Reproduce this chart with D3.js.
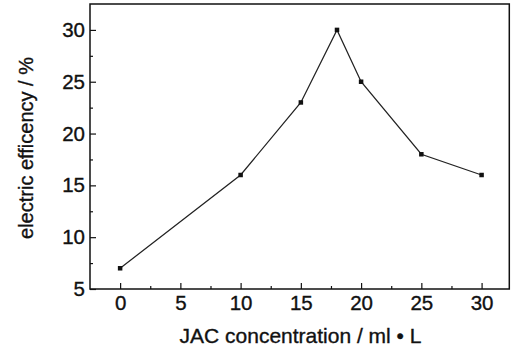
<!DOCTYPE html>
<html><head><meta charset="utf-8">
<script src="https://cdn.jsdelivr.net/npm/d3@7"></script>
<style>body{margin:0;background:#fff}svg{display:block}text{font-family:"Liberation Sans",Arial,sans-serif;fill:#111;stroke:#111;stroke-width:0.35px}</style>
</head><body>
<script>
const concentration = [0, 10, 15, 18, 20, 25, 30];
const efficiency = [7, 16, 23, 30, 25, 18, 16];
const xTicks = [0, 5, 10, 15, 20, 25, 30];
const yTicks = [5, 10, 15, 20, 25, 30];
const xMinor = [2.5, 7.5, 12.5, 17.5, 22.5, 27.5];
const yMinor = [7.5, 12.5, 17.5, 22.5, 27.5];

const W = 513, H = 349;
const L = 90, R = 509.3, T = 4, B = 289;
const svg = d3.select("body").append("svg").attr("width", W).attr("height", H);
const x = d3.scaleLinear().domain([-2.5, 32.3]).range([L, R]);
const y = d3.scaleLinear().domain([5, 32.5]).range([B, T]);

// frame
svg.append("rect").attr("x", L).attr("y", T).attr("width", R - L).attr("height", B - T)
  .attr("fill", "none").attr("stroke", "#111").attr("stroke-width", 1.5);

// x axis ticks (inward)
const xa = svg.append("g").attr("transform", `translate(0,${B})`)
  .call(d3.axisBottom(x).tickValues(xTicks).tickSize(-6).tickPadding(6).tickFormat(d3.format("d")));
xa.select(".domain").remove();
xa.selectAll("line").attr("stroke", "#111").attr("stroke-width", 1.2);
xa.selectAll("text").attr("font-size", 20.5).attr("fill", "#111").attr("y", 6).attr("dy", "0.74em");
const xm = svg.append("g").attr("transform", `translate(0,${B})`)
  .call(d3.axisBottom(x).tickValues(xMinor).tickSize(-3).tickFormat(""));
xm.select(".domain").remove();
xm.selectAll("line").attr("stroke", "#111").attr("stroke-width", 1.2);

// y axis ticks (inward)
const ya = svg.append("g").attr("transform", `translate(${L},0)`)
  .call(d3.axisLeft(y).tickValues(yTicks).tickSize(-6).tickPadding(5).tickFormat(d3.format("d")));
ya.select(".domain").remove();
ya.selectAll("line").attr("stroke", "#111").attr("stroke-width", 1.2);
ya.selectAll("text").attr("font-size", 20.5).attr("fill", "#111").attr("x", -5);
const ym = svg.append("g").attr("transform", `translate(${L},0)`)
  .call(d3.axisLeft(y).tickValues(yMinor).tickSize(-3).tickFormat(""));
ym.select(".domain").remove();
ym.selectAll("line").attr("stroke", "#111").attr("stroke-width", 1.2);

// line
const pts = concentration.map((c, i) => [c, efficiency[i]]);
svg.append("path").datum(pts)
  .attr("d", d3.line().x(d => x(d[0])).y(d => y(d[1])))
  .attr("fill", "none").attr("stroke", "#222").attr("stroke-width", 1.25);
svg.selectAll("rect.m").data(pts).enter().append("rect").attr("class", "m")
  .attr("x", d => x(d[0]) - 2.25).attr("y", d => y(d[1]) - 2.25)
  .attr("width", 4.5).attr("height", 4.5).attr("fill", "#111");

// titles
svg.append("text").attr("x", 300.5).attr("y", 343).attr("text-anchor", "middle")
  .attr("font-size", 21).text("JAC concentration / ml • L");
svg.append("text").attr("transform", `translate(33,148) rotate(-90)`).attr("text-anchor", "middle")
  .attr("font-size", 20).text("electric efficency / %");
</script>
</body></html>
